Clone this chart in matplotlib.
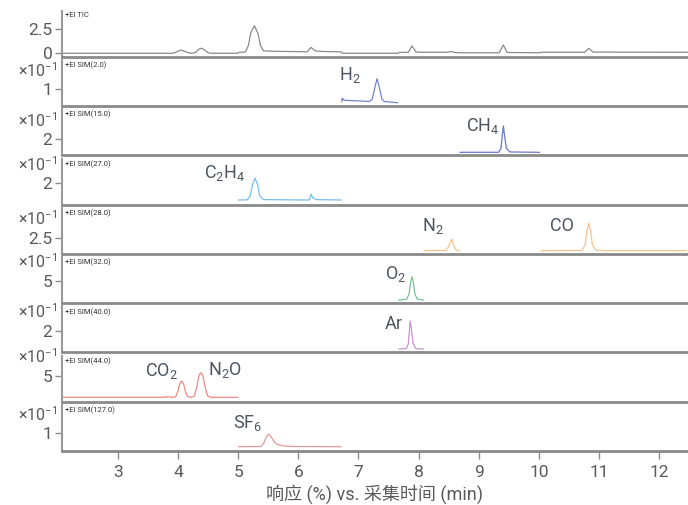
import matplotlib
matplotlib.use('Agg')
import matplotlib.pyplot as plt

plt.rcParams['font.family'] = ['Roboto', 'Noto Sans CJK SC', 'DejaVu Sans']
plt.rcParams['mathtext.fontset'] = 'custom'
plt.rcParams['mathtext.rm'] = 'Roboto'

# retention time (min) and response
tic_t = [2.07, 3.90, 3.96, 4.01, 4.06, 4.11, 4.17, 4.24, 4.30, 4.34, 4.39, 4.44, 4.49,
         4.55, 5.00, 5.01, 5.12, 5.17, 5.21, 5.27, 5.33, 5.37, 5.42, 5.60, 6.15,
         6.21, 6.28, 6.40, 6.71, 6.73, 7.66, 7.67, 7.83, 7.89, 7.96, 8.08, 8.48,
         8.54, 8.60, 8.70, 9.34, 9.41, 9.47, 10.02, 10.04, 10.76, 10.83, 10.90, 12.48]
tic_y = [0.0, 0.0, 0.08, 0.25, 0.32, 0.2, 0.05, 0.0, 0.12, 0.4, 0.52, 0.35, 0.08,
         0.0, 0.0, 0.1, 0.12, 0.8, 2.1, 2.8, 2.0, 0.8, 0.25, 0.2, 0.15,
         0.6, 0.25, 0.18, 0.15, 0.0, 0.0, 0.08, 0.1, 0.75, 0.12, 0.1, 0.1,
         0.18, 0.08, 0.05, 0.05, 0.85, 0.08, 0.05, 0.1, 0.1, 0.5, 0.12, 0.1]

h2_t = [6.72, 6.73, 6.76, 7.00, 7.18, 7.23, 7.27, 7.31, 7.35, 7.39, 7.43, 7.65]
h2_y = [0.0, 0.27, 0.1, 0.05, 0.0, 0.2, 1.1, 1.87, 1.1, 0.2, 0.0, -0.1]

ch4_t = [8.69, 9.33, 9.37, 9.39, 9.41, 9.43, 9.46, 9.52, 10.01]
ch4_y = [0.0, 0.0, 0.6, 2.5, 4.05, 2.5, 0.6, 0.05, 0.0]

c2h4_t = [5.01, 5.15, 5.20, 5.24, 5.28, 5.32, 5.36, 5.42, 6.18, 6.20, 6.21, 6.24, 6.30, 6.71]
c2h4_y = [0.0, 0.02, 0.5, 1.9, 2.6, 1.9, 0.5, 0.05, 0.0, 0.4, 0.72, 0.25, 0.05, 0.0]

n2_t = [8.09, 8.45, 8.50, 8.55, 8.59, 8.63, 8.68]
n2_y = [0.0, 0.05, 0.8, 2.2, 0.8, 0.1, 0.0]

co_t = [10.04, 10.72, 10.77, 10.80, 10.83, 10.86, 10.89, 10.95, 11.10, 12.45]
co_y = [0.0, 0.05, 1.2, 3.8, 5.27, 3.8, 1.2, 0.1, 0.0, 0.0]

o2_t = [7.67, 7.80, 7.84, 7.87, 7.89, 7.91, 7.94, 7.98, 8.08]
o2_y = [0.0, 0.2, 1.5, 4.8, 6.04, 4.8, 1.5, 0.2, 0.0]

ar_t = [7.67, 7.80, 7.83, 7.85, 7.86, 7.88, 7.91, 7.95, 8.08]
ar_y = [0.0, 0.05, 0.6, 2.2, 3.06, 2.2, 0.6, 0.05, 0.0]

co2_t = [2.07, 3.78, 3.80, 3.82, 3.85, 3.88, 3.96, 4.00, 4.03, 4.06, 4.09, 4.12,
         4.16, 4.22, 4.27, 4.31, 4.35, 4.38, 4.41, 4.45, 4.49, 4.55, 4.99]
co2_y = [0.0, 0.0, 0.25, 0.0, 0.15, 0.0, 0.1, 1.5, 3.2, 3.82, 3.2, 1.5,
         0.15, 0.0, 0.3, 2.4, 5.2, 5.76, 5.2, 2.4, 0.3, 0.0, 0.0]

sf6_t = [5.01, 5.38, 5.43, 5.47, 5.51, 5.55, 5.60, 5.66, 5.75, 5.90, 6.71]
sf6_y = [0.0, 0.02, 0.3, 0.75, 0.93, 0.7, 0.35, 0.15, 0.06, 0.02, 0.0]

panel_titles = ['+EI TIC', '+EI SIM(2.0)', '+EI SIM(15.0)', '+EI SIM(27.0)',
                '+EI SIM(28.0)', '+EI SIM(32.0)', '+EI SIM(40.0)', '+EI SIM(44.0)',
                '+EI SIM(127.0)']
panel_traces = [[(tic_t, tic_y)], [(h2_t, h2_y)], [(ch4_t, ch4_y)], [(c2h4_t, c2h4_y)],
                [(n2_t, n2_y), (co_t, co_y)], [(o2_t, o2_y)], [(ar_t, ar_y)],
                [(co2_t, co2_y)], [(sf6_t, sf6_y)]]
panel_ticks = [[0, 2.5], [1], [2], [2], [2.5], [5], [2], [5], [1]]
panel_ticklabels = [['0', '2.5'], ['1'], ['2'], ['2'], ['2.5'], ['5'], ['2'], ['5'], ['1']]

# compound labels: (panel, text, time, response)
compound_labels = [
    (1, r'$\mathregular{H_2}$', 6.86, 2.17),
    (2, r'$\mathregular{CH_4}$', 9.06, 4.05),
    (3, r'$\mathregular{C_2H_4}$', 4.78, 3.2),
    (4, r'$\mathregular{N_2}$', 8.24, 4.75),
    (4, 'CO', 10.38, 4.75),
    (5, r'$\mathregular{O_2}$', 7.61, 6.7),
    (6, 'Ar', 7.59, 2.73),
    (7, r'$\mathregular{CO_2}$', 3.72, 6.16),
    (7, r'$\mathregular{N_2O}$', 4.78, 6.4),
    (8, r'$\mathregular{SF_6}$', 5.15, 1.75),
]

colors = ['#8a8a8a', '#7284c8', '#6a78c8', '#78bde8', '#f5c48a',
          '#78c496', '#c896cc', '#f08a86', '#e39a9a']
ylims = [(-0.35, 4.33), (-0.37, 3.4), (-0.46, 6.6), (-0.55, 4.96), (-0.62, 8.23),
         (-0.83, 11.1), (-0.38, 4.64), (-1.05, 9.72), (-0.32, 3.04)]

W, H = 688, 505
PANEL_H = 46
fig = plt.figure(figsize=(W / 100, H / 100), dpi=100)
label_color = '#4c5560'
tick_color = '#5a5a5a'

axes = []
for i in range(9):
    bottom_px = 56.7 + 49.3 * i
    ax = fig.add_axes([62 / W, 1 - bottom_px / H, 626 / W, PANEL_H / H])
    axes.append(ax)
    for t, y in panel_traces[i]:
        ax.plot(t, y, color=colors[i], lw=0.9)
    ax.set_xlim(2.07, 12.48)
    lo, hi = ylims[i]
    ax.set_ylim(lo, hi)
    ax.set_yticks(panel_ticks[i])
    ax.set_yticklabels(panel_ticklabels[i])
    ax.tick_params(axis='y', length=5, width=1, color='#8a8a8a', labelsize=12.5,
                   labelcolor=tick_color, pad=2)
    for s in ['top', 'right']:
        ax.spines[s].set_visible(False)
    ax.spines['left'].set_color('#9a9a9a')
    ax.spines['left'].set_linewidth(1.5)
    ax.spines['bottom'].set_color('#8a8a8a')
    ax.spines['bottom'].set_linewidth(2)
    ax.text(0.004, 0.97, panel_titles[i], transform=ax.transAxes, fontsize=5.5,
            color='#333333', ha='left', va='top')
    if i > 0:
        # exponent sits about 12 px above the top tick, like the instrument software
        frac = (panel_ticks[i][-1] - lo) / (hi - lo) + 12.5 / PANEL_H
        ax.text(-0.008, frac, r'$\mathregular{\times10^{-1}}$', transform=ax.transAxes,
                fontsize=11.5, color=tick_color, ha='right', va='baseline')
    if i < 8:
        ax.set_xticks([])
    else:
        ax.set_xticks(range(3, 13))
        ax.tick_params(axis='x', length=6, width=1, color='#8a8a8a', labelsize=12.5,
                       labelcolor=tick_color, pad=4)
        ax.set_xlabel('响应 (%) vs. 采集时间 (min)', fontsize=13, color=tick_color,
                      labelpad=3)

for p, txt, x, y in compound_labels:
    axes[p].text(x, y, txt, fontsize=13, color=label_color, ha='center', va='center')

fig.savefig('out.png', dpi=100)
